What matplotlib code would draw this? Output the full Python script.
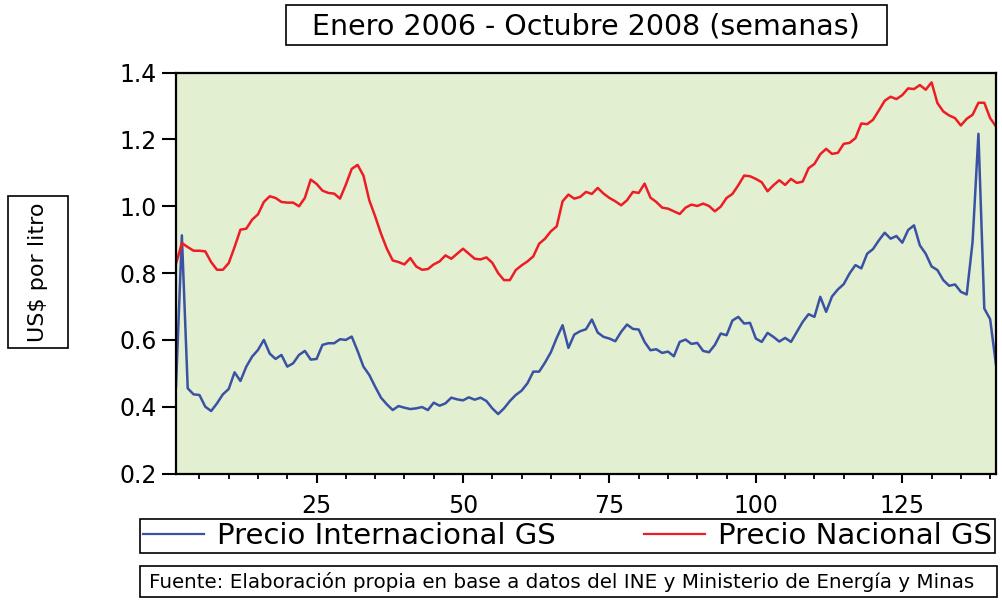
import matplotlib
matplotlib.use("Agg")
import matplotlib.pyplot as plt
from matplotlib.patches import Rectangle
from matplotlib.ticker import MultipleLocator
import numpy as np

# weekly prices, Jan 2006 - Oct 2008 (US$ per litre)
precio_nacional = [
    0.828, 0.890, 0.878, 0.867, 0.867, 0.865, 0.833, 0.810, 0.810, 0.830,
    0.878, 0.930, 0.933, 0.960, 0.976, 1.013, 1.030, 1.025, 1.013, 1.011,
    1.011, 1.000, 1.025, 1.080, 1.067, 1.047, 1.040, 1.038, 1.023, 1.065,
    1.112, 1.124, 1.092, 1.018, 0.970, 0.918, 0.873, 0.838, 0.833, 0.826,
    0.845, 0.820, 0.810, 0.812, 0.826, 0.835, 0.853, 0.843, 0.858, 0.873,
    0.858, 0.843, 0.841, 0.847, 0.831, 0.800, 0.779, 0.779, 0.809, 0.823,
    0.835, 0.850, 0.888, 0.903, 0.925, 0.940, 1.015, 1.035, 1.023, 1.028,
    1.043, 1.037, 1.055, 1.038, 1.025, 1.015, 1.003, 1.018, 1.043, 1.040,
    1.068, 1.026, 1.013, 0.996, 0.993, 0.985, 0.977, 0.996, 1.005, 1.001,
    1.008, 1.001, 0.985, 0.999, 1.025, 1.037, 1.063, 1.092, 1.090, 1.082,
    1.072, 1.045, 1.063, 1.078, 1.064, 1.082, 1.070, 1.074, 1.114, 1.127,
    1.156, 1.172, 1.157, 1.160, 1.187, 1.190, 1.204, 1.248, 1.246, 1.259,
    1.287, 1.316, 1.328, 1.321, 1.333, 1.353, 1.351, 1.363, 1.349, 1.371,
    1.309, 1.284, 1.272, 1.264, 1.242, 1.262, 1.274, 1.310, 1.310, 1.264,
    1.239]

precio_internacional = [
    0.460, 0.913, 0.455, 0.437, 0.435, 0.400, 0.387, 0.410, 0.437, 0.453,
    0.503, 0.477, 0.520, 0.550, 0.570, 0.600, 0.559, 0.543, 0.555, 0.520,
    0.530, 0.555, 0.567, 0.541, 0.543, 0.585, 0.590, 0.590, 0.602, 0.600,
    0.610, 0.567, 0.520, 0.495, 0.460, 0.427, 0.407, 0.390, 0.402, 0.397,
    0.393, 0.395, 0.399, 0.390, 0.412, 0.403, 0.410, 0.427, 0.422, 0.419,
    0.428, 0.421, 0.427, 0.417, 0.395, 0.378, 0.395, 0.417, 0.435, 0.448,
    0.470, 0.505, 0.505, 0.532, 0.563, 0.606, 0.644, 0.576, 0.616, 0.626,
    0.632, 0.661, 0.622, 0.609, 0.604, 0.596, 0.624, 0.646, 0.633, 0.631,
    0.594, 0.569, 0.572, 0.561, 0.565, 0.551, 0.594, 0.601, 0.588, 0.591,
    0.567, 0.563, 0.585, 0.619, 0.614, 0.658, 0.669, 0.649, 0.651, 0.604,
    0.594, 0.621, 0.609, 0.595, 0.606, 0.594, 0.624, 0.654, 0.677, 0.669,
    0.729, 0.684, 0.730, 0.751, 0.767, 0.799, 0.824, 0.814, 0.858, 0.872,
    0.898, 0.921, 0.903, 0.911, 0.891, 0.929, 0.943, 0.883, 0.858, 0.820,
    0.809, 0.779, 0.762, 0.766, 0.744, 0.736, 0.893, 1.217, 0.694, 0.662,
    0.525]

semanas = np.arange(1, len(precio_nacional) + 1)

plt.rcParams['font.family'] = ['DejaVu Sans']

W, H = 1002, 600
fig = plt.figure(figsize=(W / 100, H / 100), dpi=100)


def px_box(x0, y0, x1, y1):
    # rectangle given in pixel coords (origin top-left)
    r = Rectangle((x0 / W, 1 - y1 / H), (x1 - x0) / W, (y1 - y0) / H,
                  transform=fig.transFigure, fill=False, edgecolor='black',
                  linewidth=1.2)
    fig.patches.append(r)


ax = fig.add_axes([176 / W, 1 - 473.5 / H, 820 / W, 400.8 / H])
ax.set_facecolor('#E2EFD1')

ax.plot(semanas, precio_internacional, color='#3A52A3', lw=1.8,
        label='Precio Internacional GS')
ax.plot(semanas, precio_nacional, color='#EE1C25', lw=1.8,
        label='Precio Nacional GS')

ax.set_xlim(1, 141)
ax.set_ylim(0.2, 1.4)
ax.xaxis.set_major_locator(MultipleLocator(25))
ax.xaxis.set_minor_locator(MultipleLocator(5))
ax.yaxis.set_major_locator(MultipleLocator(0.2))

for s in ax.spines.values():
    s.set_linewidth(1.6)
ax.tick_params(axis='y', which='major', direction='out', length=10,
               width=1.5, pad=4, labelsize=17)
ax.tick_params(axis='x', which='major', direction='out', length=6.5,
               width=1.5, pad=8, labelsize=17)
ax.tick_params(axis='x', which='minor', direction='out', length=3.5,
               width=1.3)

# title box
px_box(286, 5, 887, 45)
fig.text(586 / W, 1 - 26 / H, 'Enero 2006 - Octubre 2008 (semanas)',
         ha='center', va='center', fontsize=20.5)

# y label box
px_box(8, 196, 68, 348)
fig.text(38 / W, 1 - 272 / H, 'US$ por litro', rotation=90,
         ha='center', va='center', fontsize=16)

# legend
leg = ax.legend(loc='center', ncol=2, mode='expand',
                bbox_to_anchor=(140 / W, 1 - 557 / H, 855 / W, 42 / H),
                bbox_transform=fig.transFigure, fontsize=21,
                frameon=True, fancybox=False, edgecolor='black',
                framealpha=1, handlelength=2.1, handletextpad=0.45,
                borderpad=0.1, borderaxespad=0)
leg.get_frame().set_linewidth(1.2)
for ln in leg.get_lines():
    ln.set_linewidth(1.6)

# source box
px_box(140, 566, 997, 597)
fig.text(149 / W, 1 - 581.5 / H,
         'Fuente: Elaboración propia en base a datos del INE y Ministerio de Energía y Minas',
         ha='left', va='center', fontsize=14.3)

fig.savefig('out.png', dpi=100)
